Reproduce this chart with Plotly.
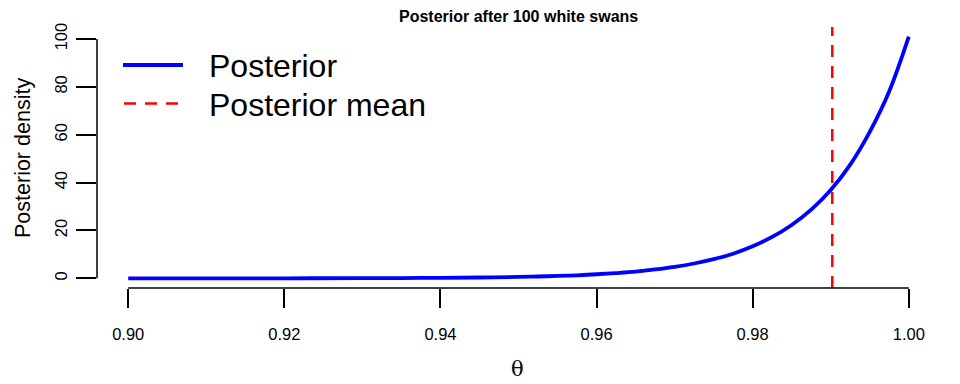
import plotly.graph_objects as go

theta = [0.900, 0.910, 0.920, 0.930, 0.935, 0.940, 0.945,
         0.9500, 0.9525, 0.9550, 0.9575, 0.9600, 0.9625, 0.9650, 0.9675, 0.9700,
         0.9725, 0.9750, 0.9775, 0.9800, 0.9825, 0.9850, 0.9875, 0.9900,
         0.9925, 0.9950, 0.9975, 1.0000]
density = [0.00, 0.01, 0.02, 0.07, 0.12, 0.20, 0.35,
           0.60, 0.77, 0.99, 1.27, 1.70, 2.2, 2.8, 3.7, 4.8,
           6.2, 8.0, 10.3, 13.4, 17.3, 22.3, 28.7, 36.9,
           47.5, 61.2, 78.2, 101.0]
post_mean = 0.9902
x_ticks = [0.90, 0.92, 0.94, 0.96, 0.98, 1.00]
x_ticklabels = ["0.90", "0.92", "0.94", "0.96", "0.98", "1.00"]
y_ticks = [0, 20, 40, 60, 80, 100]
legend_labels = ["Posterior", "Posterior mean"]

W, H = 960, 384
L, R, T, B = 97, 940, 27, 288
pw, ph = R - L, B - T
def xp(px): return (px - L) / pw
def yp(py): return (B - py) / ph

FONT = "Liberation Sans, Arial, Helvetica, sans-serif"
RED_DASH = "12px,9px"

fig = go.Figure()
fig.add_trace(go.Scatter(x=theta, y=density, mode="lines",
                         line=dict(color="#0000ff", width=3.8, shape="spline", smoothing=1.0),
                         showlegend=False, hoverinfo="skip"))

shapes = [
    dict(type="line", xref="x", yref="paper", x0=post_mean, x1=post_mean, y0=0, y1=1,
         line=dict(color="#ff0000", width=2.5, dash=RED_DASH)),
    dict(type="line", xref="x", yref="paper", x0=x_ticks[0], x1=x_ticks[-1], y0=0, y1=0,
         line=dict(color="black", width=1.5)),
    dict(type="line", xref="paper", yref="y", x0=0, x1=0, y0=y_ticks[0], y1=y_ticks[-1],
         line=dict(color="black", width=1.5)),
    dict(type="line", xref="paper", yref="paper", x0=xp(123), x1=xp(183), y0=yp(65), y1=yp(65),
         line=dict(color="#0000ff", width=3.8)),
    dict(type="line", xref="paper", yref="paper", x0=xp(124), x1=xp(180), y0=yp(103.5), y1=yp(103.5),
         line=dict(color="#ff0000", width=2.5, dash=RED_DASH)),
]

annotations = [
    dict(text="<b>Posterior after 100 white swans</b>", xref="paper", yref="paper",
         x=xp(518), y=yp(16), xanchor="center", yanchor="middle", showarrow=False,
         font=dict(family=FONT, size=16, color="black")),
    dict(text="Posterior density", xref="paper", yref="paper",
         x=xp(23), y=yp(158), xanchor="center", yanchor="middle", showarrow=False,
         textangle=-90, font=dict(family=FONT, size=21.5, color="black")),
    dict(text="θ", xref="paper", yref="paper",
         x=xp(517), y=yp(369), xanchor="center", yanchor="middle", showarrow=False,
         font=dict(family="DejaVu Serif, Liberation Serif, serif", size=21, color="black")),
    dict(text=legend_labels[0], xref="paper", yref="paper",
         x=xp(207), y=yp(66), xanchor="left", yanchor="middle", showarrow=False,
         font=dict(family=FONT, size=32, color="black")),
    dict(text=legend_labels[1], xref="paper", yref="paper",
         x=xp(207), y=yp(105), xanchor="left", yanchor="middle", showarrow=False,
         font=dict(family=FONT, size=32, color="black")),
]

fig.update_layout(
    width=W, height=H,
    margin=dict(l=L, r=W - R, t=T, b=H - B, pad=0),
    paper_bgcolor="white", plot_bgcolor="white",
    shapes=shapes, annotations=annotations,
    xaxis=dict(range=[0.896, 1.004], tickvals=x_ticks, ticktext=x_ticklabels,
               ticks="outside", ticklen=19, tickwidth=1.5, tickcolor="black",
               showgrid=False, zeroline=False, showline=False,
               tickfont=dict(family=FONT, size=16.5, color="black"),
               ticklabelstandoff=12),
    yaxis=dict(range=[-4.04, 105.04], tickvals=y_ticks,
               ticks="outside", ticklen=20, tickwidth=1.5, tickcolor="black",
               showgrid=False, zeroline=False, showline=False, tickangle=-90,
               tickfont=dict(family=FONT, size=16.5, color="black"),
               ticklabelstandoff=2),
    showlegend=False,
)

fig.write_html("out.html")
